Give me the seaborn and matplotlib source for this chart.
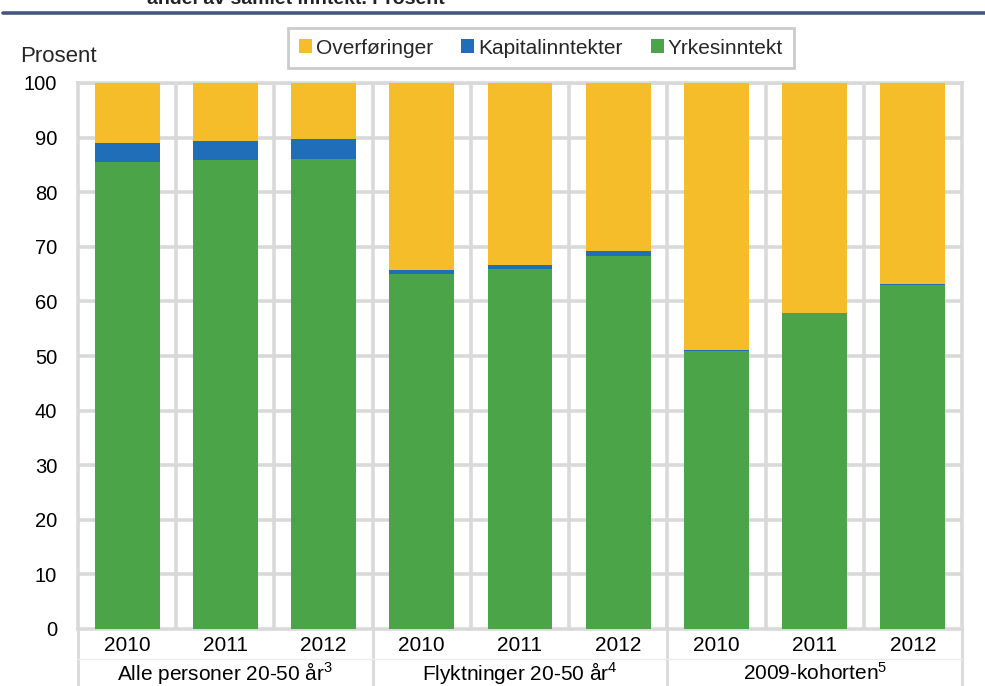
import matplotlib
matplotlib.use("Agg")
import matplotlib.pyplot as plt
import matplotlib.transforms as mtransforms
from matplotlib.patches import Patch
from matplotlib.lines import Line2D
import numpy as np
import pandas as pd
import seaborn as sns

# Income composition, percent of total income
groups = ["Alle personer 20-50 år$^{3}$", "Flyktninger 20-50 år$^{4}$", "2009-kohorten$^{5}$"]
years = ["2010", "2011", "2012"]
yrkesinntekt = [85.6, 85.9, 86.0, 65.1, 66.0, 68.4, 50.9, 57.8, 63.0]
kapitalinntekter = [3.5, 3.5, 3.8, 0.6, 0.7, 0.9, 0.2, 0.1, 0.1]
overforinger = [10.9, 10.6, 10.2, 34.3, 33.3, 30.7, 48.9, 42.1, 36.9]

series_names = ["Overføringer", "Kapitalinntekter", "Yrkesinntekt"]
colors = {"Overføringer": "#F6BD2B", "Kapitalinntekter": "#1F6EB7", "Yrkesinntekt": "#4BA448"}

sns.set_theme(style="white")
plt.rcParams["font.family"] = ["Liberation Sans", "DejaVu Sans"]
plt.rcParams["mathtext.fontset"] = "custom"
plt.rcParams["mathtext.rm"] = "Liberation Sans"
plt.rcParams["mathtext.it"] = "Liberation Sans"

keys = [f"{g}|{y}" for g in groups for y in years]
df = pd.DataFrame({
    "key": keys,
    "Yrkesinntekt": yrkesinntekt,
    "Kapitalinntekter": kapitalinntekter,
    "Overføringer": overforinger,
})
# cumulative tops for stacking
df["top_yrke"] = df["Yrkesinntekt"]
df["top_kap"] = df["top_yrke"] + df["Kapitalinntekter"]
df["top_over"] = df["top_kap"] + df["Overføringer"]

fig = plt.figure(figsize=(9.85, 6.86), dpi=100)
ax = fig.add_axes([78 / 985, 1 - 629 / 686, 884 / 985, 546 / 686])

grid_c = "#D9D9D9"
grid_lw = 2.6

for col, name in [("top_over", "Overføringer"), ("top_kap", "Kapitalinntekter"), ("top_yrke", "Yrkesinntekt")]:
    sns.barplot(data=df, x="key", y=col, color=colors[name], width=0.66,
                saturation=1, ax=ax, zorder=3, linewidth=0, order=keys)

ax.set_xlim(-0.5, len(keys) - 0.5)
ax.set_ylim(0, 100)
ax.set_yticks(np.arange(0, 101, 10))
ax.set_xlabel("")
ax.set_ylabel("")

# grid: horizontal every 10, vertical between categories
for yv in np.arange(10, 101, 10):
    ax.axhline(yv, color=grid_c, lw=grid_lw, zorder=1)
for xv in np.arange(0.5, len(keys) - 1, 1.0):
    ax.axvline(xv, color=grid_c, lw=grid_lw, zorder=1)

for side in ["left", "right", "top", "bottom"]:
    ax.spines[side].set_color(grid_c)
    ax.spines[side].set_linewidth(grid_lw)

ax.tick_params(axis="y", length=0, pad=15, labelsize=14.5, colors="black")
ax.set_xticks(range(len(keys)))
ax.set_xticklabels(years * len(groups))
ax.tick_params(axis="x", length=0, pad=5, labelsize=15, colors="black")

# group labels and separators below the axis
trans = mtransforms.blended_transform_factory(ax.transData, fig.transFigure)
for i, g in enumerate(groups):
    ax.text(i * 3 + 1, 1 - 673 / 686, g, transform=trans, ha="center", va="center",
            fontsize=15, color="black")
for xb in [-0.5, 2.5, 5.5, 8.5]:
    ax.add_line(Line2D([xb, xb], [1 - 629 / 686, 0], transform=trans, color=grid_c,
                       lw=2.0, clip_on=False))
ax.add_line(Line2D([-0.5, 8.5], [1 - 659 / 686, 1 - 659 / 686], transform=trans,
                   color="#EDEDED", lw=1.0, clip_on=False))

fig.text(20 / 985, 1 - 56 / 686, "Prosent", ha="left", va="center", fontsize=16)

handles = [Patch(facecolor=colors[n], edgecolor="none", label=n) for n in series_names]
leg = fig.legend(handles=handles, loc="center", bbox_to_anchor=(541 / 985, 1 - 48 / 686),
                 ncol=3, frameon=True, fontsize=15, handlelength=0.62, handleheight=0.62,
                 handletextpad=0.2, columnspacing=1.35, borderpad=0.5, fancybox=False)
leg.get_frame().set_edgecolor("#BFBFBF")
leg.get_frame().set_linewidth(2.0)

# header rule and title (partly outside the canvas)
fig.add_artist(Line2D([3 / 985, 1], [1 - 13 / 686, 1 - 13 / 686], transform=fig.transFigure,
                      color="#44587F", lw=2.6))
fig.text(147 / 985, 1 - 4 / 686, "andel av samlet inntekt. Prosent", ha="left", va="baseline",
         fontsize=14, fontweight="bold", color="#222222")

fig.savefig("out.png", dpi=100)
